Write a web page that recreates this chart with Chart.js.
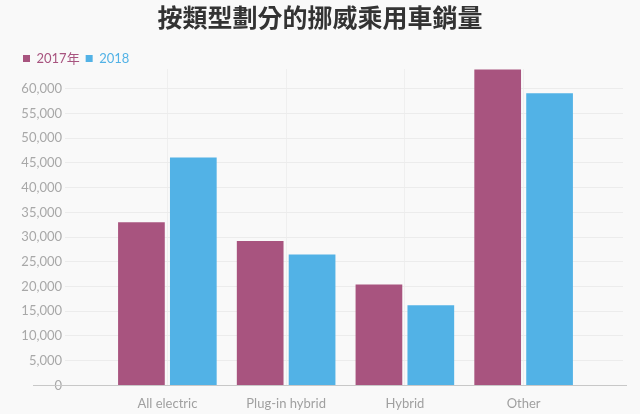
<!DOCTYPE html>
<html>
<head>
<meta charset="utf-8">
<script src="https://cdn.jsdelivr.net/npm/chart.js@4"></script>
<style>
  html, body { margin: 0; padding: 0; background: #f9f9f9; }
  #wrap { width: 640px; height: 414px; }
</style>
</head>
<body>
<div id="wrap"><canvas id="sales-chart" width="640" height="414"></canvas></div>
<script>
const salesChart = document.querySelector("#sales-chart");

const chartTitle = "按類型劃分的挪威乘用車銷量";
const categories = ["All electric", "Plug-in hybrid", "Hybrid", "Other"];
const seriesNames = ["2017年", "2018"];
const sales2017 = [33000, 29200, 20400, 63900];
const sales2018 = [46100, 26500, 16200, 59100];
const yTicks = [0, 5000, 10000, 15000, 20000, 25000, 30000, 35000, 40000, 45000, 50000, 55000, 60000];

const colors = ["#a8547f", "#52b2e6"];
const fontFamily = "Lato, 'Noto Sans CJK TC', sans-serif";

// the zero line runs a bit past the grid on both sides
const baseLine = {
  id: "baseLine",
  beforeDatasetsDraw(chart) {
    const yScale = chart.scales.y;
    const y = Math.round(yScale.getPixelForValue(0)) + 0.5;
    const ctx = chart.ctx;
    ctx.save();
    ctx.strokeStyle = "#c8c8c8";
    ctx.lineWidth = 1;
    ctx.beginPath();
    ctx.moveTo(yScale.left + 16, y);
    ctx.lineTo(chart.scales.y2.right + 4, y);
    ctx.stroke();
    ctx.restore();
  }
};

// legend box is a bit tall by default, pull the plot up under it
const legendTighten = {
  id: "legendTighten",
  beforeInit(chart) {
    const fit = chart.legend.fit;
    chart.legend.fit = function () {
      fit.bind(chart.legend)();
      this.height -= 6;
    };
  }
};

const yScaleBase = {
  min: 0,
  max: 64000,
  ticks: {
    stepSize: 5000,
    includeBounds: false,
    color: "#a8a8a8",
    font: { family: fontFamily, size: 13 },
    padding: 3,
    callback: (value) => value.toLocaleString("en-US"),
  },
  afterBuildTicks: (scale) => {
    scale.ticks = yTicks.map((v) => ({ value: v }));
  },
  border: { display: false },
};

new Chart(salesChart, {
  type: "bar",
  data: {
    labels: categories,
    datasets: [
      {
        label: seriesNames[0],
        data: sales2017,
        backgroundColor: colors[0],
        categoryPercentage: 0.874,
        barPercentage: 0.9,
      },
      {
        label: seriesNames[1],
        data: sales2018,
        backgroundColor: colors[1],
        categoryPercentage: 0.874,
        barPercentage: 0.9,
      },
    ],
  },
  options: {
    responsive: false,
    animation: false,
    layout: { padding: { left: 17, right: 17, top: 0, bottom: -9 } },
    plugins: {
      title: {
        display: true,
        text: chartTitle,
        color: "#333333",
        font: { family: "'Noto Sans CJK TC', sans-serif", size: 25, weight: "bold" },
        padding: { top: 2, bottom: 14 },
      },
      legend: {
        display: true,
        position: "top",
        align: "start",
        labels: {
          boxWidth: 7,
          boxHeight: 7,
          padding: 6,
          font: { family: fontFamily, size: 13 },
          generateLabels: (chart) =>
            chart.data.datasets.map((ds, i) => ({
              text: ds.label,
              fillStyle: ds.backgroundColor,
              strokeStyle: ds.backgroundColor,
              lineWidth: 0,
              fontColor: ds.backgroundColor,
              datasetIndex: i,
              hidden: false,
            })),
        },
      },
      tooltip: { enabled: false },
    },
    scales: {
      x: {
        grid: { offset: false, color: "#efefef", drawTicks: false },
        border: { display: false },
        ticks: {
          color: "#a0a0a0",
          font: { family: fontFamily, size: 13 },
          padding: 11,
        },
      },
      y: {
        ...yScaleBase,
        position: "left",
        grid: {
          color: (ctx) => (ctx.tick && ctx.tick.value === 0 ? "#c8c8c8" : "#ececec"),
          tickLength: 43,
        },
        afterFit: (scale) => { scale.width = 91; },
      },
      y2: {
        ...yScaleBase,
        position: "right",
        ticks: { ...yScaleBase.ticks, display: false },
        grid: {
          drawOnChartArea: false,
          color: (ctx) => (ctx.tick && ctx.tick.value === 0 ? "#c8c8c8" : "#ececec"),
          tickLength: 40,
        },
        afterFit: (scale) => { scale.width = 40; },
      },
    },
  },
  plugins: [baseLine, legendTighten],
});
</script>
</body>
</html>
